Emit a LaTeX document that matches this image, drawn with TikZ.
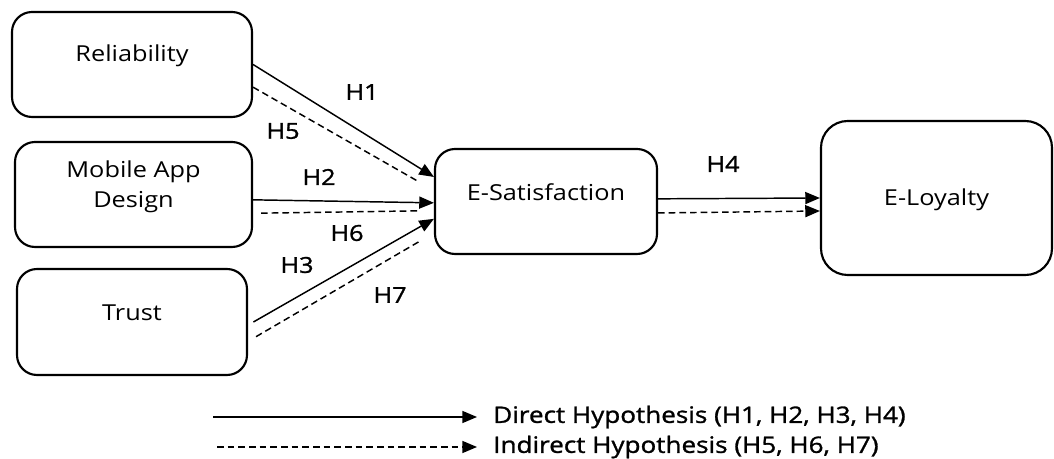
\documentclass[tikz,border=0pt]{standalone}
\usepackage{fontspec}
\usepackage{tikz}
\usetikzlibrary{arrows.meta,positioning}
\newfontfamily\constructfont{Open Sans}[FakeStretch=1.15]
\newfontfamily\hypfont{Open Sans}[FakeStretch=1.15,FakeBold=1.2]

\begin{document}
\begin{tikzpicture}[x=0.75pt,y=-0.75pt]
  \tikzstyle{construct} = [draw=black,line width=1.6pt,rounded corners=15pt,align=center,text height=12pt,
                           font=\constructfont\fontsize{16.5pt}{23pt}\selectfont]
  \tikzstyle{hyp} = [font=\hypfont\fontsize{16.5pt}{20pt}\selectfont,inner sep=0pt]
  \tikzstyle{legend} = [font=\hypfont\fontsize{17pt}{20pt}\selectfont,inner xsep=12pt,inner ysep=0pt,anchor=west]
  \tikzstyle{direct} = [draw=black,line width=1.1pt,-{Triangle[length=11pt,width=9pt]}]
  \tikzstyle{indirect} = [draw=black,line width=1.1pt,dash pattern=on 5pt off 3pt]

  \useasboundingbox (0,0) rectangle (1054,459);

  \node[construct,minimum width=180pt,minimum height=78.75pt,text depth=15.8pt] (Reliability) at (132,64.5) {Reliability};
  \node[construct,minimum width=177.75pt,minimum height=78.75pt,text height=35pt,text depth=15pt] (App_Design) at (133.5,194.5) {Mobile App\\Design};
  \node[construct,minimum width=172.5pt,minimum height=79.5pt,text depth=13.5pt] (Trust) at (132,322) {Trust};
  \node[construct,minimum width=166.5pt,minimum height=78.75pt,text depth=12.8pt] (E_Sat) at (546,201.5) {E-Satisfaction};
  \node[construct,minimum width=173.25pt,minimum height=115.5pt,text depth=0pt,rounded corners=20pt] (E_Loyalty) at (936.5,198) {E-Loyalty};

  \draw [direct] (Reliability.east) -- ([yshift=18.4pt]E_Sat.west);
  \draw [indirect] ([yshift=-17pt]Reliability.east) -- ([xshift=-11pt,yshift=14.6pt]E_Sat.west);
  \draw [direct] ([yshift=-4pt]App_Design.east) -- ([yshift=-1pt]E_Sat.west);
  \draw [indirect] ([xshift=6pt,yshift=-14pt]App_Design.east) -- ([xshift=-10pt,yshift=-7pt]E_Sat.west);
  \draw [direct] ([xshift=4pt]Trust.east) -- ([yshift=-13pt]E_Sat.west);
  \draw [indirect] ([xshift=6pt,yshift=-11pt]Trust.east) -- ([xshift=-11pt,yshift=-30pt]E_Sat.west);

  \draw [direct] ([yshift=2pt]E_Sat.east) -- (E_Loyalty.west);
  \draw [indirect,-{Triangle[length=11pt,width=9pt]}] ([yshift=-8.6pt]E_Sat.east) -- ([yshift=-9.75pt]E_Loyalty.west);

  \node[hyp] (H_1) at (362,92) {H1};
  \node[hyp] (H_2) at (319,177) {H2};
  \node[hyp] (H_3) at (297,265) {H3};
  \node[hyp] (H_4) at (723,164) {H4};
  \node[hyp] (H_5) at (283,131) {H5};
  \node[hyp] (H_6) at (347,233) {H6};
  \node[hyp] (H_7) at (390,295) {H7};

  \coordinate (direct_start) at (213,417);
  \coordinate (indirect_start) at (217,447);
  \node[legend] (legend_direct) at (477,417) {Direct Hypothesis (H1, H2, H3, H4)};
  \node[legend] (legend_indirect) at (477,447) {Indirect Hypothesis (H5, H6, H7)};

  \draw [direct] (direct_start) -- (legend_direct.west);
  \draw [indirect,-{Triangle[length=11pt,width=9pt]}] (indirect_start) -- (legend_indirect.west);
\end{tikzpicture}
\end{document}
